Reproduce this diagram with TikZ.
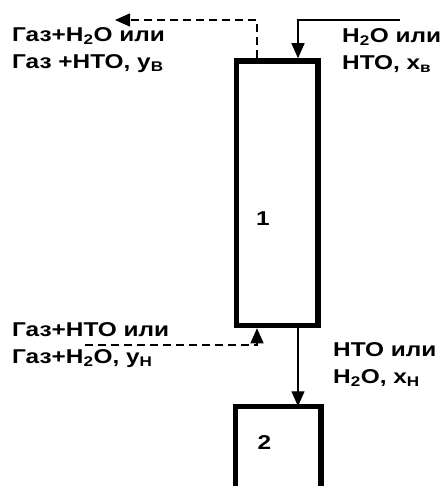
\documentclass[tikz,border=0pt]{standalone}
\usepackage{fontspec}
\setmainfont{Liberation Sans}[FakeStretch=1.22]
\usetikzlibrary{arrows.meta, calc}

\begin{document}
\begin{tikzpicture}[x=1pt, y=-1pt,
  wall/.style={draw, line width=5.5pt, inner sep=0pt},
  flow/.style={-{Triangle[length=15pt, width=13pt]}, line width=1.3pt},
  gas/.style={flow, dash pattern=on 8pt off 5pt},
  lbl/.style={font=\fontsize{20}{27.5}\selectfont\bfseries, align=left,
              inner sep=0pt, anchor=north west},
  num/.style={font=\fontsize{20}{22}\selectfont\bfseries, inner sep=0pt}
]
\useasboundingbox (0,0) rectangle (441,486);

% columns
\node[wall, minimum width=81.5pt, minimum height=264.5pt] (col1) at (277.25,193.25) {};
\node[inner sep=0pt, outer sep=2.75pt, minimum width=80pt, minimum height=110pt] (col2) at (278,464) {};
\draw[line width=5.5pt] (col2.south west) |- (col2.north east) -- (col2.south east);
\node[num] (n1) at (263,218.5) {1};
\node[num] (n2) at (264.5,442.5) {2};

% labels
\node[lbl] (gasOutLbl) at (12,27) {Газ+H\textsubscript{2}O или\\Газ +НТО, y\textsubscript{В}};
\node[lbl] (liqInLbl)  at (342,28) {H\textsubscript{2}O или\\НТО, x\textsubscript{в}};
\node[lbl] (gasInLbl)  at (12,322) {Газ+НТО или\\Газ+H\textsubscript{2}O, y\textsubscript{Н}};
\node[lbl] (liqOutLbl) at (333,342) {НТО или\\H\textsubscript{2}O, x\textsubscript{Н}};

% streams
\coordinate (feedIn) at (400,20);
\coordinate (feedTurn) at (298,20);
\coordinate (gasTop) at (257,20);
\coordinate (gasOut) at (115,20);
\coordinate (gasIn) at (85,345);
\coordinate (gasTurn) at (257,345);

\draw[flow] (feedIn) -- (feedTurn) -- (feedTurn |- col1.north);
\draw[gas] (gasTop |- col1.north) -- (gasTop) -- (gasOut);
\draw[gas] (gasIn) -- (gasTurn) -- (gasTurn |- col1.south);
\draw[flow] (feedTurn |- col1.south) -- (feedTurn |- col2.north);
\end{tikzpicture}
\end{document}
